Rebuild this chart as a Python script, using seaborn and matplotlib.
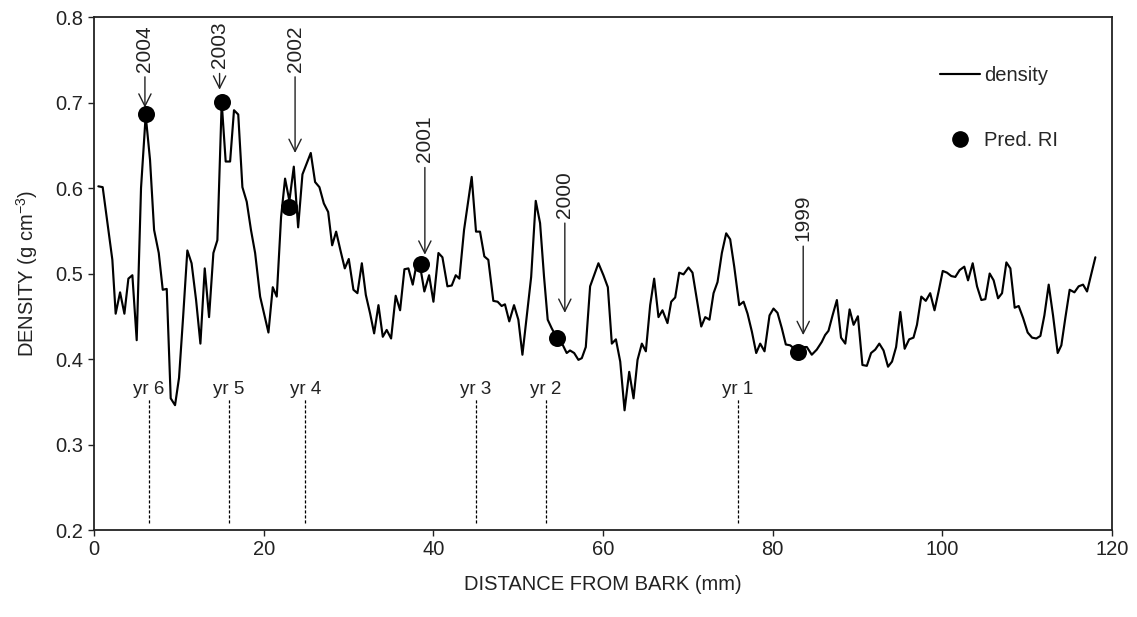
import matplotlib
matplotlib.use("Agg")
import matplotlib.pyplot as plt
import seaborn as sns
import pandas as pd
from matplotlib.lines import Line2D

# Wood density profile along the core (distance from bark in mm, density in g/cm3)
distance = [
    0.51, 1.02, 1.69, 2.16, 2.55, 3.07, 3.58, 4.05, 4.52, 5.03, 5.54, 6.09, 6.6, 7.08,
    7.63, 8.10, 8.57, 9.04, 9.55, 10.02, 10.5, 11.0, 11.5, 12.03, 12.54, 13.05, 13.56,
    14.07, 14.54, 15.05, 15.52, 16.04, 16.5, 17.0, 17.49, 18.0, 18.5, 18.99, 19.58,
    20.05, 20.56, 21.07, 21.54, 22.05, 22.52, 23.03, 23.55, 24.06, 24.57, 25.08, 25.55,
    26.06, 26.57, 27.09, 27.6, 28.07, 28.54, 29.05, 29.56, 30.03, 30.58, 31.05, 31.57,
    32.04, 32.55, 33.02, 33.53, 34.04, 34.5, 35.02, 35.56, 36.08, 36.59, 37.06, 37.57,
    38.04, 38.5, 38.94, 39.5, 40.01, 40.6, 41.07, 41.66, 42.17, 42.64, 43.07, 43.62,
    44.52, 45.03, 45.5, 46.01, 46.48, 47.07, 47.58, 48.05, 48.44, 48.95, 49.51, 50.02,
    50.5, 51.53, 52.07, 52.58, 53.05, 53.48, 53.95, 54.54, 55.13, 55.72, 56.11, 56.6,
    57.1, 57.5, 57.97, 58.48, 58.95, 59.46, 60.05, 60.57, 61.04, 61.52, 62.03, 62.54,
    63.09, 63.6, 64.07, 64.58, 65.05, 65.56, 66.03, 66.54, 67.01, 67.6, 68.04, 68.51,
    68.98, 69.49, 70.08, 70.55, 71.07, 71.58, 72.05, 72.55, 73.03, 73.5, 74.01, 74.52,
    74.99, 75.47, 76.06, 76.57, 77.04, 77.55, 78.06, 78.53, 79.04, 79.63, 80.1, 80.57,
    81.08, 81.55, 82.07, 82.55, 83.0, 83.5, 84.03, 84.61, 85.2, 85.79, 86.18, 86.58,
    87.06, 87.57, 88.06, 88.56, 89.07, 89.54, 90.05, 90.58, 91.1, 91.6, 92.09, 92.57,
    93.07, 93.6, 94.07, 94.55, 95.05, 95.56, 96.09, 96.6, 97.01, 97.52, 98.05, 98.57,
    99.08, 99.56, 100.05, 100.55, 101.06, 101.53, 102.04, 102.59, 103.03, 103.58,
    104.09, 104.6, 105.07, 105.58, 106.05, 106.57, 107.04, 107.55, 108.02, 108.53,
    109.0, 109.52, 110.06, 110.58, 111.08, 111.56, 112.03, 112.54, 113.05, 113.6,
    114.03, 114.5, 115.01, 115.57, 116.07, 116.59, 117.06, 118.04,
]
density = [
    0.602, 0.601, 0.551, 0.516, 0.453, 0.478, 0.453, 0.494, 0.498, 0.422, 0.600, 0.685,
    0.633, 0.551, 0.524, 0.481, 0.482, 0.354, 0.346, 0.378, 0.449, 0.527, 0.512, 0.469,
    0.418, 0.506, 0.449, 0.524, 0.539, 0.700, 0.631, 0.631, 0.691, 0.686, 0.601, 0.584,
    0.551, 0.524, 0.473, 0.453, 0.431, 0.484, 0.473, 0.566, 0.611, 0.585, 0.625, 0.554,
    0.616, 0.629, 0.641, 0.607, 0.601, 0.582, 0.572, 0.533, 0.549, 0.527, 0.506, 0.517,
    0.481, 0.477, 0.512, 0.475, 0.453, 0.430, 0.463, 0.426, 0.434, 0.424, 0.474, 0.457,
    0.505, 0.506, 0.487, 0.512, 0.505, 0.479, 0.498, 0.467, 0.524, 0.519, 0.485, 0.486,
    0.498, 0.494, 0.551, 0.613, 0.549, 0.549, 0.520, 0.516, 0.468, 0.467, 0.462, 0.464,
    0.444, 0.463, 0.446, 0.405, 0.496, 0.585, 0.559, 0.496, 0.446, 0.436, 0.425, 0.419,
    0.407, 0.410, 0.407, 0.399, 0.401, 0.414, 0.485, 0.498, 0.512, 0.498, 0.484, 0.418,
    0.423, 0.397, 0.340, 0.385, 0.354, 0.399, 0.418, 0.409, 0.463, 0.494, 0.449, 0.457,
    0.442, 0.467, 0.472, 0.501, 0.499, 0.507, 0.501, 0.469, 0.438, 0.449, 0.446, 0.477,
    0.490, 0.524, 0.547, 0.540, 0.508, 0.463, 0.467, 0.453, 0.432, 0.407, 0.418, 0.409,
    0.451, 0.459, 0.454, 0.436, 0.417, 0.416, 0.412, 0.408, 0.414, 0.414, 0.405, 0.411,
    0.420, 0.428, 0.433, 0.451, 0.469, 0.425, 0.418, 0.458, 0.440, 0.450, 0.393, 0.392,
    0.407, 0.411, 0.418, 0.410, 0.391, 0.397, 0.414, 0.455, 0.412, 0.423, 0.425, 0.440,
    0.473, 0.468, 0.477, 0.457, 0.479, 0.503, 0.501, 0.497, 0.496, 0.504, 0.508, 0.492,
    0.512, 0.485, 0.469, 0.470, 0.500, 0.492, 0.471, 0.477, 0.513, 0.506, 0.460, 0.462,
    0.448, 0.431, 0.425, 0.424, 0.427, 0.451, 0.487, 0.451, 0.407, 0.416, 0.448, 0.481,
    0.478, 0.485, 0.487, 0.479, 0.519,
]

# Predicted ring boundaries (Pred. RI)
ri_distance = [6.09, 15.05, 23.03, 38.5, 54.54, 83.0]
ri_density = [0.687, 0.701, 0.578, 0.511, 0.425, 0.408]

# Calendar-year annotations: arrow x, text bottom, arrow tip
years = ["2004", "2003", "2002", "2001", "2000", "1999"]
year_x = [6.0, 14.8, 23.7, 39.0, 55.5, 83.6]
year_text_y = [0.736, 0.740, 0.736, 0.630, 0.565, 0.538]
year_tip_y = [0.694, 0.715, 0.641, 0.522, 0.454, 0.428]

# Visually counted ring positions
ring_labels = ["yr 6", "yr 5", "yr 4", "yr 3", "yr 2", "yr 1"]
ring_x = [6.5, 15.9, 24.9, 45.0, 53.3, 75.9]

sns.set_theme(style="white")
plt.rcParams["font.family"] = ["Liberation Sans", "DejaVu Sans"]
plt.rcParams["mathtext.fontset"] = "custom"
plt.rcParams["mathtext.rm"] = "Liberation Sans"
plt.rcParams["mathtext.default"] = "regular"

INK = "#222222"
LABEL_SIZE = 14.5

fig = plt.figure(figsize=(11.37, 6.17), dpi=100)
ax = fig.add_axes([0.0827, 0.141, 0.8953, 0.8314])

profile = pd.DataFrame({"distance": distance, "density": density})
rings = pd.DataFrame({"distance": ri_distance, "density": ri_density})

sns.lineplot(data=profile, x="distance", y="density", ax=ax, color="black",
             linewidth=1.55, sort=False, zorder=3)
sns.scatterplot(data=rings, x="distance", y="density", ax=ax, color="black",
                s=150, edgecolor="black", linewidth=0, zorder=4)

for label, x, ty, tip in zip(years, year_x, year_text_y, year_tip_y):
    ax.text(x, ty, label, rotation=90, ha="center", va="bottom", fontsize=15,
            color=INK)
    ax.annotate("", xy=(x, tip), xytext=(x, ty - 0.006),
                arrowprops=dict(arrowstyle="->", color=INK, lw=1.0,
                                mutation_scale=22, shrinkA=0, shrinkB=0))

for label, x in zip(ring_labels, ring_x):
    ax.plot([x, x], [0.208, 0.354], color="black", linestyle=(0, (2.5, 1.5)),
            linewidth=0.9, zorder=2)
    ax.text(x, 0.354, label, ha="center", va="bottom", fontsize=13.5, color=INK)

ax.set_xlim(0, 120)
ax.set_ylim(0.2, 0.8)
ax.set_xticks([0, 20, 40, 60, 80, 100, 120])
ax.set_yticks([0.2, 0.3, 0.4, 0.5, 0.6, 0.7, 0.8])
ax.set_yticklabels(["0.2", "0.3", "0.4", "0.5", "0.6", "0.7", "0.8"])
ax.tick_params(axis="both", which="major", direction="out", length=4, width=1,
               labelsize=LABEL_SIZE, colors=INK, left=True, bottom=True, pad=3.5)
for side in ["top", "right", "left", "bottom"]:
    ax.spines[side].set_visible(True)
    ax.spines[side].set_color(INK)
    ax.spines[side].set_linewidth(1.3)

ax.set_xlabel("DISTANCE FROM BARK (mm)", fontsize=LABEL_SIZE, color=INK, labelpad=11)
ax.set_ylabel("DENSITY (g cm$^{-3}$)", fontsize=LABEL_SIZE, color=INK, labelpad=11)

handles = [
    Line2D([0], [0], color="black", linewidth=1.55),
    Line2D([0], [0], color="black", marker="o", markersize=11, linestyle="none"),
]
ax.legend(handles, ["density", "Pred. RI"], loc="upper left",
          bbox_to_anchor=(0.831, 0.905), frameon=False, fontsize=LABEL_SIZE,
          handlelength=2.0, handletextpad=0.2, labelspacing=2.3,
          borderpad=0, borderaxespad=0)

fig.savefig("out.png", dpi=100)
